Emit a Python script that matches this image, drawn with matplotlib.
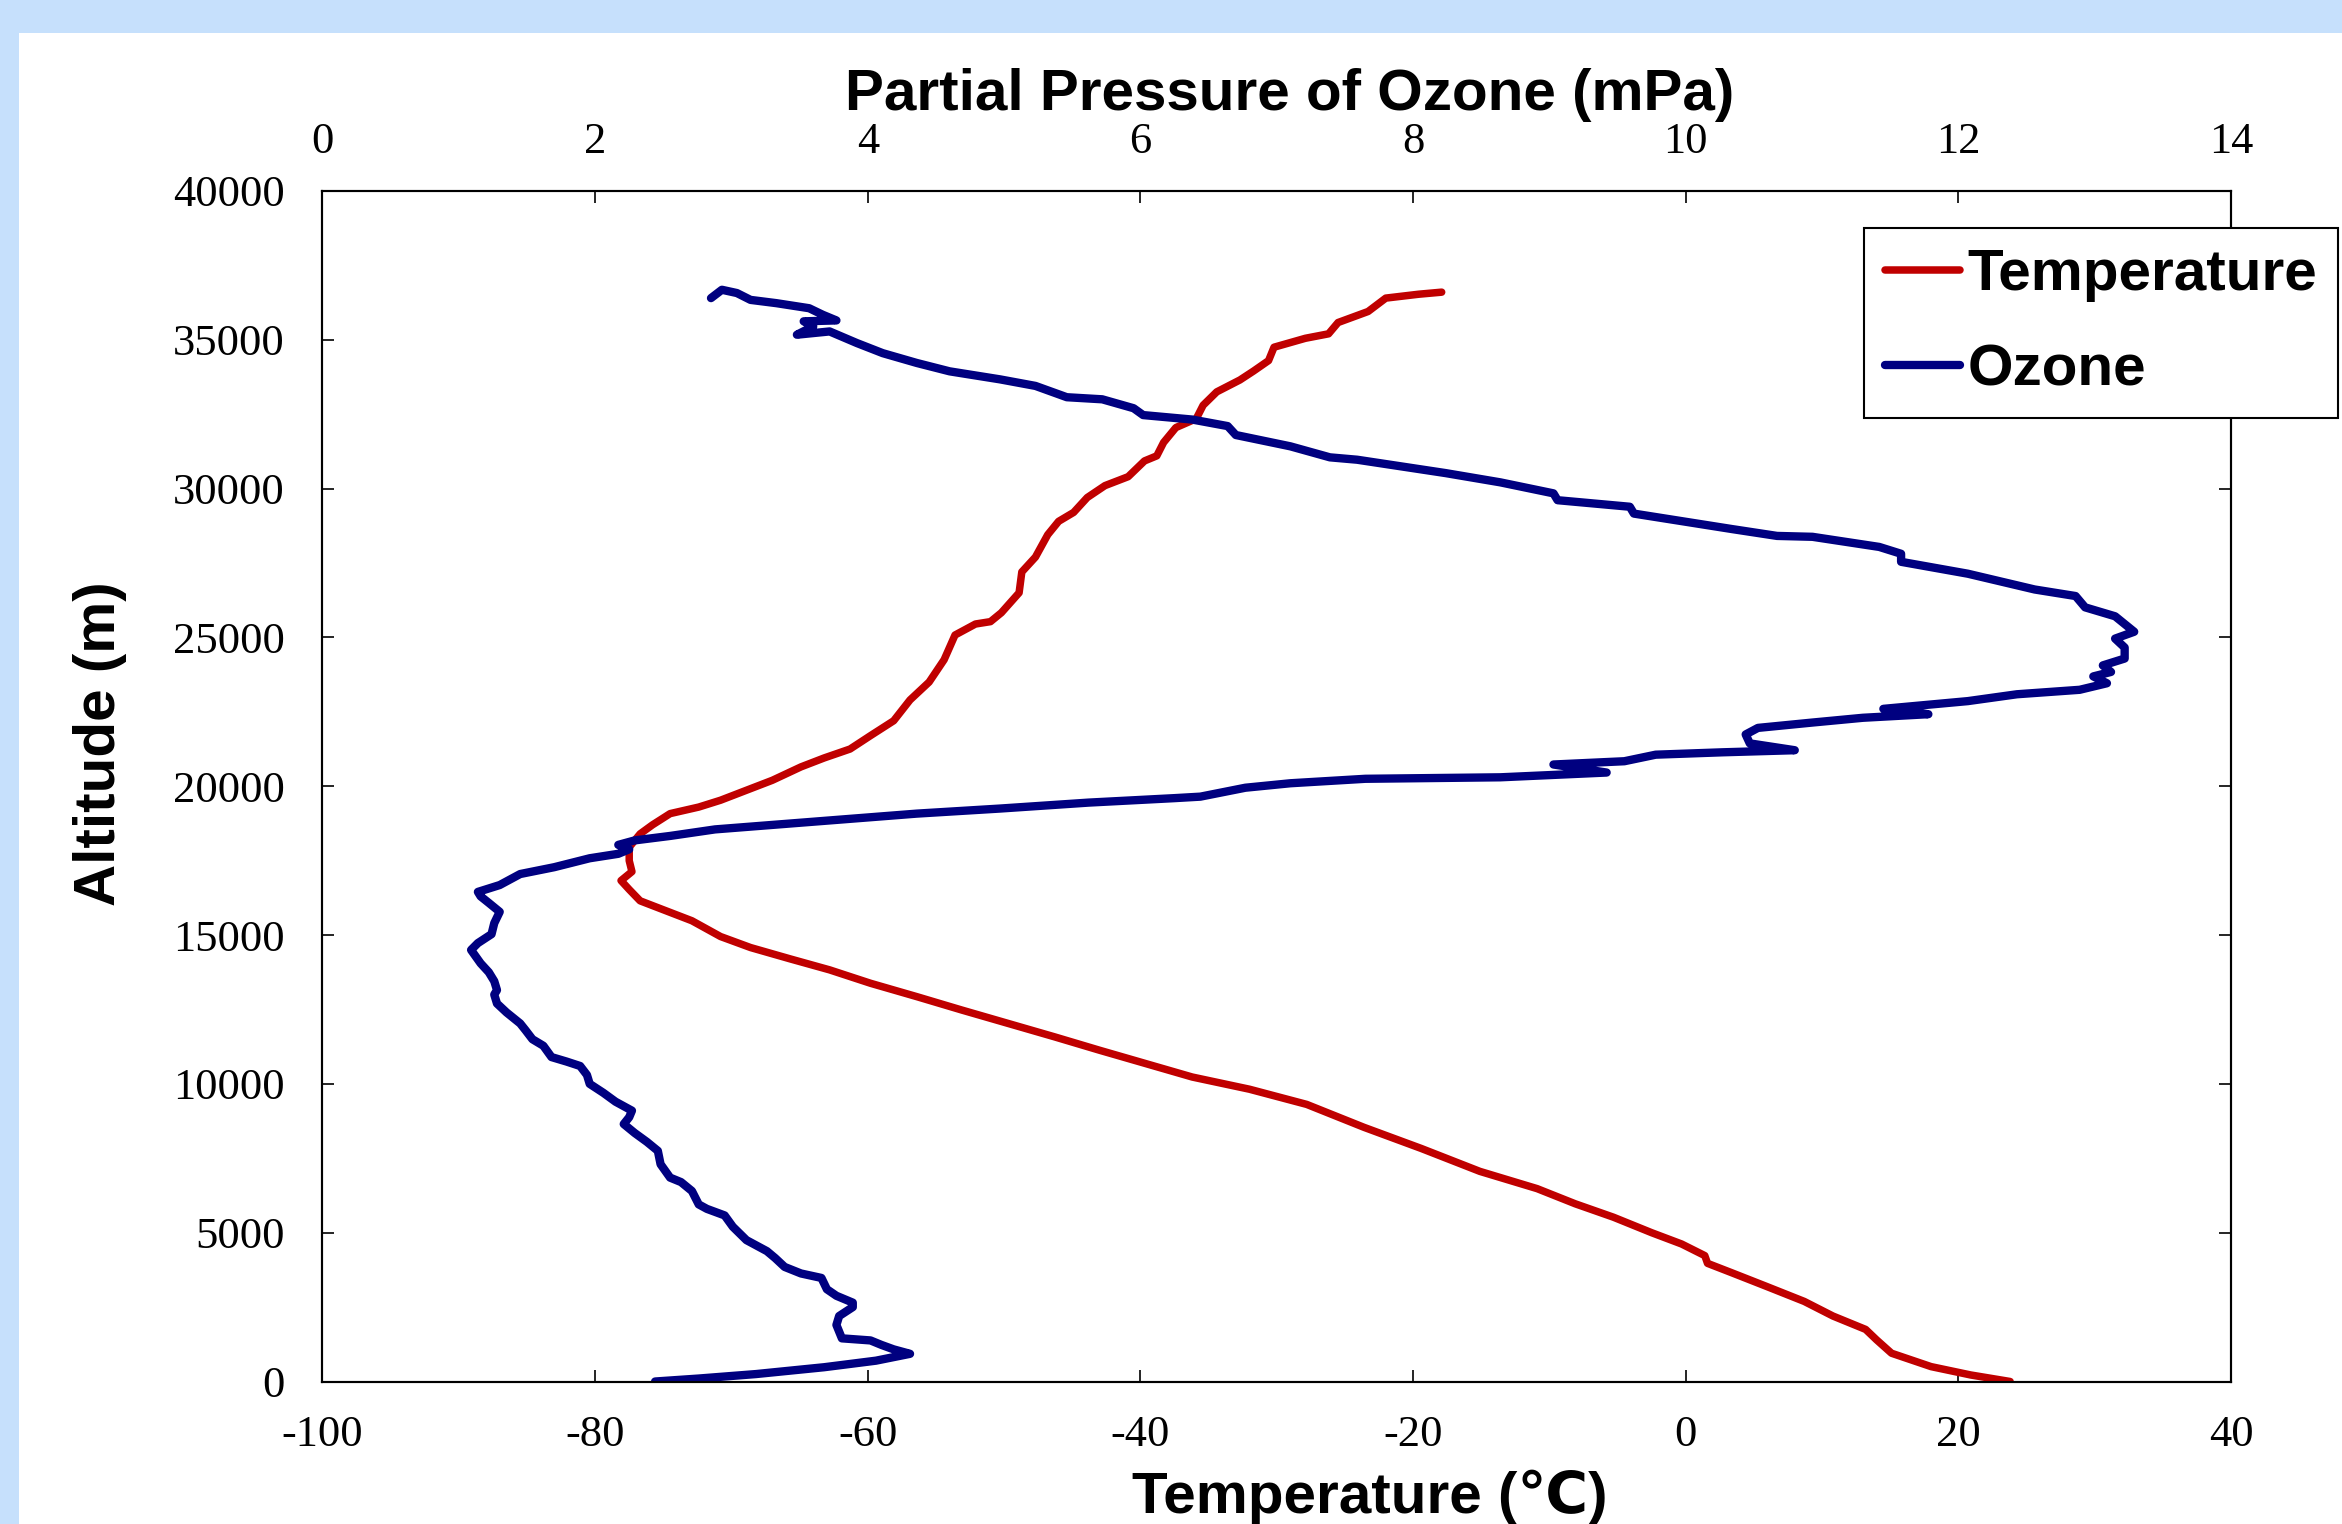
import matplotlib
matplotlib.use("Agg")
import matplotlib.pyplot as plt
from matplotlib.patches import Rectangle

# temperature sounding (altitude m, deg C)
temp_alt = [0, 220, 500, 950, 1400, 1750, 2200, 2690, 3200, 3650, 3970, 4230,
            4620, 5000, 5520, 5970, 6480, 7060, 7830, 8540, 9310, 9820, 10230,
            10680, 11130, 11580, 12030, 12480, 12930, 13380, 13830, 14200,
            14580, 14950, 15480, 15850, 16150, 16530, 16830, 17130, 17500,
            17950, 18400, 18700, 19080, 19300, 19530, 19830, 20200, 20650,
            20950, 21250, 21700, 22200, 22900, 23500, 24250, 25080, 25450,
            25530, 25830, 26500, 27200, 27700, 28450, 28900, 29200, 29700,
            30100, 30400, 30930, 31100, 31550, 32050, 32350, 32800, 33250,
            33650, 33950, 34300, 34750, 35050, 35200, 35580, 35950, 36400,
            36530, 36600]
temp_c = [23.8, 20.9, 18.0, 15.1, 14.0, 13.2, 10.8, 8.7, 5.9, 3.4, 1.6, 1.4,
          -0.3, -2.5, -5.3, -8.1, -10.9, -15.1, -19.4, -23.6, -27.8, -32.0,
          -36.2, -39.6, -43.0, -46.3, -49.7, -53.1, -56.4, -59.8, -62.8,
          -65.7, -68.6, -70.8, -72.9, -75.0, -76.7, -77.5, -78.1, -77.3,
          -77.5, -77.5, -76.7, -75.8, -74.5, -72.4, -70.8, -69.1, -67.0,
          -64.9, -63.2, -61.3, -59.8, -58.1, -56.9, -55.5, -54.4, -53.6,
          -52.1, -51.0, -50.2, -48.9, -48.7, -47.7, -46.8, -46.0, -44.9,
          -43.9, -42.6, -40.9, -39.7, -38.8, -38.3, -37.4, -35.9, -35.4,
          -34.4, -32.7, -31.7, -30.6, -30.2, -27.9, -26.2, -25.5, -23.3,
          -22.0, -19.6, -17.9]

# ozone sounding (altitude m, partial pressure mPa)
ozone_alt = [0, 100, 250, 480, 700, 930, 1080, 1230, 1380, 1450, 1900, 2200,
             2500, 2650, 2880, 3100, 3480, 3630, 3850, 4150, 4380, 4750, 5200,
             5580, 5800, 5950, 6400, 6700, 6850, 7300, 7750, 8050, 8350, 8650,
             8880, 9100, 9400, 9700, 10000, 10300, 10600, 10750, 10900, 11280,
             11500, 11800, 12030, 12400, 12700, 13000, 13150, 13450, 13750,
             14050, 14500, 14730, 15030, 15400, 15780, 16080, 16300, 16450,
             16680, 17050, 17280, 17580, 17730, 17880, 18030, 18180, 18330,
             18550, 18700, 18850, 19080, 19250, 19450, 19600, 19650, 19950,
             20100, 20250, 20300, 20460, 20730, 20840, 21060, 21140, 21210,
             21440, 21740, 21960, 22140, 22300, 22420, 22600, 22860, 23090,
             23240, 23460, 23690, 23840, 24060, 24290, 24660, 24960, 25190,
             25710, 26010, 26390, 26610, 27140, 27540, 27810, 28040, 28380,
             28410, 28640, 29160, 29390, 29610, 29840, 30210, 30520, 30970,
             31050, 31420, 31800, 32100, 32320, 32470, 32700, 33000, 33070,
             33450, 33670, 33940, 34220, 34550, 34890, 35280, 35170, 35450,
             35620, 35650, 35840, 36060, 36230, 36340, 36570, 36680, 36400]
ozone_mpa = [2.44, 2.76, 3.18, 3.68, 4.06, 4.31, 4.19, 4.10, 4.02, 3.81, 3.77,
             3.79, 3.89, 3.89, 3.77, 3.70, 3.66, 3.51, 3.39, 3.32, 3.26, 3.11,
             3.01, 2.95, 2.82, 2.76, 2.71, 2.63, 2.55, 2.48, 2.46, 2.38, 2.29,
             2.21, 2.25, 2.27, 2.15, 2.06, 1.96, 1.94, 1.89, 1.79, 1.68, 1.62,
             1.54, 1.49, 1.45, 1.35, 1.28, 1.26, 1.28, 1.26, 1.22, 1.16, 1.09,
             1.14, 1.24, 1.26, 1.30, 1.22, 1.16, 1.14, 1.30, 1.45, 1.70, 1.96,
             2.17, 2.25, 2.17, 2.29, 2.55, 2.88, 3.30, 3.72, 4.36, 4.97, 5.62,
             6.25, 6.44, 6.77, 7.10, 7.65, 8.64, 9.42, 9.03, 9.55, 9.78, 10.27,
             10.80, 10.47, 10.44, 10.53, 10.93, 11.30, 11.78, 11.45, 12.07,
             12.43, 12.89, 13.09, 12.99, 13.12, 13.06, 13.22, 13.22, 13.15,
             13.29, 13.15, 12.93, 12.86, 12.56, 12.07, 11.58, 11.58, 11.42,
             10.93, 10.67, 10.34, 9.62, 9.59, 9.06, 9.03, 8.64, 8.24, 7.59,
             7.39, 7.10, 6.70, 6.64, 6.38, 6.02, 5.95, 5.72, 5.46, 5.23, 4.97,
             4.60, 4.36, 4.11, 3.92, 3.72, 3.48, 3.60, 3.53, 3.77, 3.67, 3.57,
             3.33, 3.14, 3.04, 2.93, 2.85]

temp_ticks = list(range(-100, 41, 20))
ozone_ticks = list(range(0, 15, 2))
alt_ticks = list(range(0, 40001, 5000))

plt.rcParams["font.family"] = "Liberation Serif"
plt.rcParams["axes.unicode_minus"] = False
label_font = ["Liberation Sans", "DejaVu Sans"]

fig = plt.figure(figsize=(23.42, 15.24), dpi=100, facecolor="white")
# light blue slide border top and left
fig.patches.append(Rectangle((0, 0.9783), 1, 0.0217, transform=fig.transFigure,
                             facecolor="#C6E0FC", edgecolor="none"))
fig.patches.append(Rectangle((0, 0), 0.0081, 1, transform=fig.transFigure,
                             facecolor="#C6E0FC", edgecolor="none"))

ax = fig.add_axes([0.1377, 0.0935, 0.8149, 0.7812])
ax2 = ax.twiny()

l1, = ax.plot(temp_c, temp_alt, color="#C00000", lw=5.4,
              solid_joinstyle="round", solid_capstyle="round")
l2, = ax2.plot(ozone_mpa, ozone_alt, color="#000080", lw=6,
               solid_joinstyle="round", solid_capstyle="round")

ax.set_xlim(-100, 40)
ax.set_ylim(0, 40000)
ax2.set_xlim(0, 14)
ax.set_xticks(temp_ticks)
ax.set_yticks(alt_ticks)
ax2.set_xticks(ozone_ticks)

ax.tick_params(axis="x", direction="in", length=8.5, width=1.2, labelsize=32, pad=24)
ax.tick_params(axis="y", direction="in", length=8.5, width=1.2, labelsize=32, pad=27,
               right=True)
ax2.tick_params(axis="x", direction="in", length=8.5, width=1.2, labelsize=32, pad=21)
for a in (ax, ax2):
    for s in a.spines.values():
        s.set_linewidth(1.5)

ax.set_xlabel("Temperature (℃)", fontsize=42, fontweight="bold", family=label_font)
ax.xaxis.set_label_coords(0.5485, -0.074)
ax2.set_xlabel("Partial Pressure of Ozone (mPa)", fontsize=42, fontweight="bold",
               family=label_font)
ax2.xaxis.set_label_coords(0.507, 1.068)
ax.set_ylabel("Altitude (m)", fontsize=42, fontweight="bold", family=label_font)
ax.yaxis.set_label_coords(-0.1025, 0.536)

leg = ax2.legend([l1, l2], ["Temperature", "Ozone"], loc="upper left",
                 bbox_to_anchor=(0.796, 0.8504), bbox_transform=fig.transFigure,
                 prop={"family": "Liberation Sans", "weight": "bold", "size": 42},
                 fancybox=False, edgecolor="black", framealpha=1,
                 handlelength=1.3, handletextpad=0.12, borderpad=0.35,
                 labelspacing=0.7, borderaxespad=0)
leg.get_frame().set_linewidth(1.5)

fig.savefig("out.png", dpi=100)
